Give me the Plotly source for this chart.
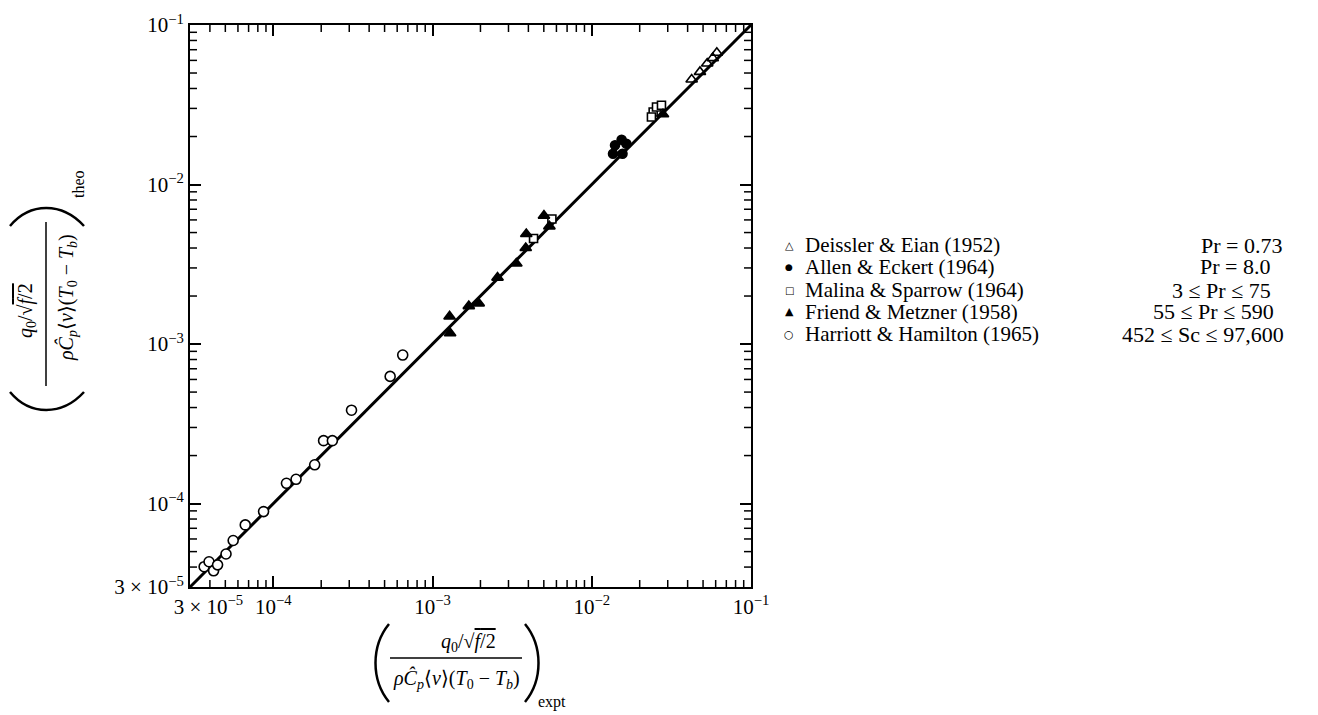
import plotly.graph_objects as go

# --- data: (expt, theo) pairs for each data set ---
deissler_x = [4.24e-2, 4.78e-2, 5.31e-2, 5.75e-2, 6.10e-2]
deissler_y = [4.55e-2, 5.08e-2, 5.74e-2, 6.20e-2, 6.70e-2]

allen_x = [1.40e-2, 1.54e-2, 1.36e-2, 1.56e-2, 1.65e-2]
allen_y = [1.76e-2, 1.91e-2, 1.56e-2, 1.56e-2, 1.80e-2]

malina_x = [2.43e-2, 2.55e-2, 2.74e-2, 2.37e-2, 4.31e-3, 5.62e-3]
malina_y = [2.85e-2, 3.06e-2, 3.14e-2, 2.65e-2, 4.59e-3, 6.08e-3]

friend_x = [1.28e-3, 1.29e-3, 1.69e-3, 1.95e-3, 2.56e-3, 3.36e-3, 3.85e-3, 3.88e-3,
            5.01e-3, 5.42e-3, 2.80e-2]
friend_y = [1.49e-3, 1.17e-3, 1.73e-3, 1.80e-3, 2.61e-3, 3.20e-3, 4.00e-3, 4.90e-3,
            6.38e-3, 5.47e-3, 2.76e-2]

harriott_x = [3.68e-5, 3.95e-5, 4.22e-5, 4.47e-5, 5.05e-5, 5.60e-5, 6.67e-5, 8.69e-5,
              1.21e-4, 1.39e-4, 1.82e-4, 2.07e-4, 2.35e-4, 3.10e-4, 5.42e-4, 6.50e-4]
harriott_y = [4.02e-5, 4.32e-5, 3.79e-5, 4.13e-5, 4.83e-5, 5.87e-5, 7.35e-5, 8.91e-5,
              1.34e-4, 1.42e-4, 1.75e-4, 2.48e-4, 2.48e-4, 3.85e-4, 6.27e-4, 8.53e-4]

# line of perfect agreement
line_x = [3e-5, 1e-1]
line_y = [3e-5, 1e-1]

tick_vals = [3e-5, 1e-4, 1e-3, 1e-2, 1e-1]
x_tick_text = ["\u00a0" * 7 + "3 × 10<sup>−5</sup>",
               "10<sup>−4</sup>", "10<sup>−3</sup>", "10<sup>−2</sup>", "10<sup>−1</sup>"]
y_tick_text = ["3 × 10<sup>−5</sup>", "10<sup>−4</sup>", "10<sup>−3</sup>",
               "10<sup>−2</sup>", "10<sup>−1</sup>"]

series_names = ["Deissler & Eian (1952)", "Allen & Eckert (1964)",
                "Malina & Sparrow (1964)", "Friend & Metzner (1958)",
                "Harriott & Hamilton (1965)"]
series_glyphs = ["△", "●", "□", "▲", "○"]
series_ranges = ["Pr = 0.73", "Pr = 8.0", "3 ≤ Pr ≤ 75", "55 ≤ Pr ≤ 590",
                 "452 ≤ Sc ≤ 97,600"]

W, H = 1318, 715
SERIF = "Liberation Serif, Times New Roman, serif"
AX_RANGE = [-4.5229, -1]

# plot-area edges in figure pixels
LEFT, RIGHT, TOP, BOTTOM = 190, 751, 25, 587


def px(x):
    return x / W


def py(y):
    return 1 - y / H


X_DOM = [px(LEFT), px(RIGHT)]
Y_DOM = [py(BOTTOM), py(TOP)]

# minor ticks at 2..9 of every decade inside the axis range
minor_vals = [m * 10.0 ** e for e in range(-5, -1) for m in range(2, 10)
              if 3.05e-5 < m * 10.0 ** e < 0.099 and not (e == -5 and m == 3)]

fig = go.Figure()

fig.add_trace(go.Scatter(x=line_x, y=line_y, mode="lines",
                         line=dict(color="black", width=3), showlegend=False,
                         hoverinfo="skip"))

mk_line = dict(color="black", width=1.6)
fig.add_trace(go.Scatter(x=deissler_x, y=deissler_y, mode="markers", name=series_names[0],
                         marker=dict(symbol="triangle-up-open", size=10, color="black",
                                     line=mk_line)))
fig.add_trace(go.Scatter(x=allen_x, y=allen_y, mode="markers", name=series_names[1],
                         marker=dict(symbol="circle", size=9, color="black",
                                     line=mk_line)))
fig.add_trace(go.Scatter(x=malina_x, y=malina_y, mode="markers", name=series_names[2],
                         marker=dict(symbol="square", size=8, color="white",
                                     line=mk_line)))
fig.add_trace(go.Scatter(x=friend_x, y=friend_y, mode="markers", name=series_names[3],
                         marker=dict(symbol="triangle-up", size=10, color="black",
                                     line=mk_line)))
fig.add_trace(go.Scatter(x=harriott_x, y=harriott_y, mode="markers", name=series_names[4],
                         marker=dict(symbol="circle", size=10, color="white",
                                     line=mk_line)))

major_axis = dict(
    type="log", range=AX_RANGE, showgrid=False, zeroline=False,
    showline=True, linecolor="black", linewidth=2, mirror="ticks",
    ticks="inside", ticklen=11, tickwidth=1.5, tickcolor="black",
    tickmode="array", tickvals=tick_vals,
    tickfont=dict(family=SERIF, size=21, color="black"),
)

fig.update_layout(
    width=W, height=H,
    margin=dict(l=0, r=0, t=0, b=0, autoexpand=False),
    paper_bgcolor="white", plot_bgcolor="white",
    font=dict(family=SERIF, size=18, color="black"),
    showlegend=False,
    xaxis=dict(major_axis, domain=X_DOM, ticktext=x_tick_text),
    yaxis=dict(major_axis, domain=Y_DOM, ticktext=y_tick_text),
)

# minor ticks on all four sides: position along the axis comes from the log scale,
# the short perpendicular extent is given in paper units
MINOR_LEN = 7
MINOR_LINE = dict(color="black", width=1.5)
for v in minor_vals:
    # bottom and top edges
    fig.add_shape(type="line", xref="x", yref="paper", x0=v, x1=v,
                  y0=py(BOTTOM), y1=py(BOTTOM - MINOR_LEN), line=MINOR_LINE,
                  layer="above")
    fig.add_shape(type="line", xref="x", yref="paper", x0=v, x1=v,
                  y0=py(TOP), y1=py(TOP + MINOR_LEN), line=MINOR_LINE,
                  layer="above")
    # left and right edges
    fig.add_shape(type="line", xref="paper", yref="y", y0=v, y1=v,
                  x0=px(LEFT), x1=px(LEFT + MINOR_LEN), line=MINOR_LINE,
                  layer="above")
    fig.add_shape(type="line", xref="paper", yref="y", y0=v, y1=v,
                  x0=px(RIGHT), x1=px(RIGHT - MINOR_LEN), line=MINOR_LINE,
                  layer="above")


def label(x, y, text, size, angle=0, xanchor="center", family=SERIF):
    fig.add_annotation(x=px(x), y=py(y), xref="paper", yref="paper", text=text,
                       textangle=angle, showarrow=False, xanchor=xanchor,
                       yanchor="middle", font=dict(family=family, size=size,
                                                   color="black"))


# key: symbol, data set and condition column
row_y = [245, 267, 290, 312, 334]
glyph_size = [11, 9, 10, 11, 11]
range_cx = [1241, 1235, 1221, 1213, 1203]
for i in range(5):
    label(789, row_y[i], series_glyphs[i], glyph_size[i], family="DejaVu Sans")
    label(803, row_y[i], series_names[i], 21, xanchor="left")
    label(range_cx[i], row_y[i], series_ranges[i], 22)

NUM = "<i>q</i><sub>0</sub>/√<span style='text-decoration:overline'><i>f</i>/2</span>"
DEN = "<i>ρĈ</i><sub><i>p</i></sub>⟨<i>v</i>⟩(<i>T</i><sub>0</sub> − <i>T</i><sub><i>b</i></sub>)"
PAREN = dict(color="black", width=2.5)


def paren(pts):
    # large delimiter as a cubic bezier through figure-pixel points
    (x0, y0), (x1, y1), (x2, y2), (x3, y3) = pts
    path = (f"M {px(x0)},{py(y0)} C {px(x1)},{py(y1)} {px(x2)},{py(y2)} "
            f"{px(x3)},{py(y3)}")
    fig.add_shape(type="path", xref="paper", yref="paper", path=path, line=PAREN)


# x-axis title: (fraction)_expt
label(468, 642, NUM, 20)
fig.add_shape(type="line", xref="paper", yref="paper", x0=px(390), x1=px(522),
              y0=py(658), y1=py(658), line=dict(color="black", width=1.5))
label(456, 679, DEN, 20)
paren([(389, 624), (371, 646), (371, 680), (389, 702)])
paren([(525, 624), (543, 646), (543, 680), (525, 702)])
label(552, 702, "expt", 16)

# y-axis title: (fraction)_theo, rotated
label(27, 311, NUM, 20, angle=-90)
fig.add_shape(type="line", xref="paper", yref="paper", x0=px(46), x1=px(46),
              y0=py(386), y1=py(222), line=dict(color="black", width=1.5))
label(67, 298, DEN, 20, angle=-90)
paren([(10, 392), (30, 416), (62, 416), (84, 392)])
paren([(10, 226), (30, 202), (62, 202), (84, 226)])
label(78, 184, "theo", 16, angle=-90)

fig.write_html("out.html")
